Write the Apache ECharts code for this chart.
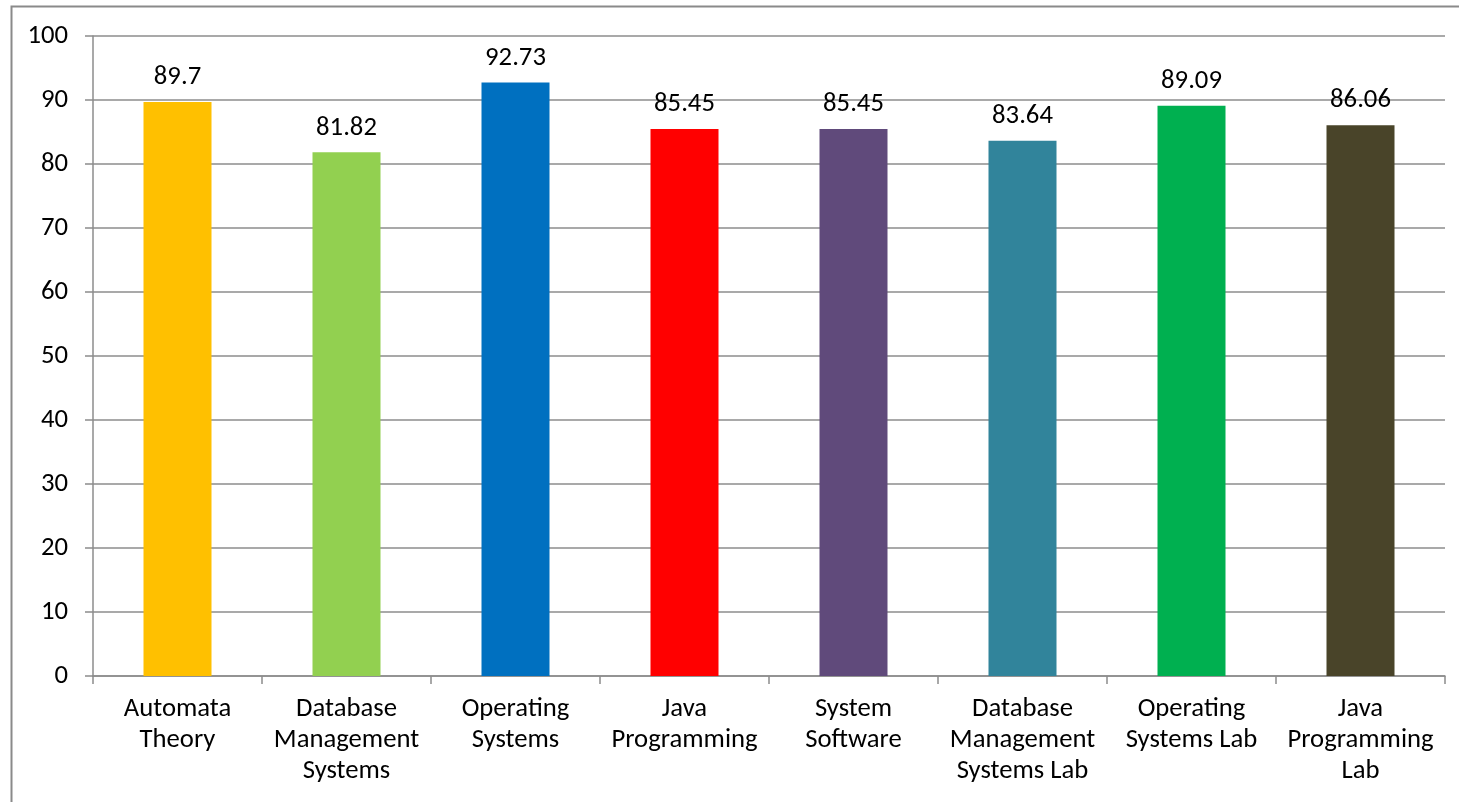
<!DOCTYPE html>
<html><head><meta charset="utf-8">
<script src="https://cdn.jsdelivr.net/npm/echarts@6/dist/echarts.min.js"></script>
<style>html,body{margin:0;padding:0;background:#fff}#c{width:1459px;height:802px}</style>
</head><body><div id="c"></div>
<script>
const categories = ["Automata\nTheory","Database\nManagement\nSystems","Operating\nSystems","Java\nProgramming","System\nSoftware","Database\nManagement\nSystems Lab","Operating\nSystems Lab","Java\nProgramming\nLab"];
const values = [89.7, 81.82, 92.73, 85.45, 85.45, 83.64, 89.09, 86.06];
const colors = ["#FFC000","#92D050","#0070C0","#FF0000","#604A7B","#31849B","#00B050","#494429"];
const yTicks = {min:0, max:100, interval:10};
const chart = echarts.init(document.getElementById('c'));
const font = 'Carlito, "Open Sans", "Liberation Sans", sans-serif';
chart.setOption({
  animation:false,
  graphic:[{type:'rect',shape:{x:11.5,y:6.5,width:1600,height:1000},style:{fill:'none',stroke:'#8a8a8a',lineWidth:2},silent:true}],
  grid:{left:93,right:14,top:36,bottom:126,containLabel:false},
  xAxis:{type:'category',data:categories,
    axisLine:{lineStyle:{color:'#8c8c8c',width:1.5}},
    axisTick:{show:true,alignWithLabel:false,length:8,lineStyle:{color:'#8c8c8c',width:1.5}},
    axisLabel:{color:'#000',fontSize:26.7,fontFamily:font,lineHeight:31,margin:18,interval:0}},
  yAxis:{type:'value',min:yTicks.min,max:yTicks.max,interval:yTicks.interval,
    axisLine:{show:true,lineStyle:{color:'#8c8c8c',width:1.5}},
    axisTick:{show:true,length:8,lineStyle:{color:'#8c8c8c',width:1.5}},
    splitLine:{lineStyle:{color:'#8c8c8c',width:1.5}},
    axisLabel:{color:'#000',fontSize:26.7,fontFamily:font,margin:25}},
  series:[{type:'bar',barWidth:68,
    data:values.map((v,i)=>({value:v,itemStyle:{color:colors[i]}})),
    label:{show:true,position:'top',distance:11,color:'#000',fontSize:26.7,fontFamily:font}}]
});
</script></body></html>
